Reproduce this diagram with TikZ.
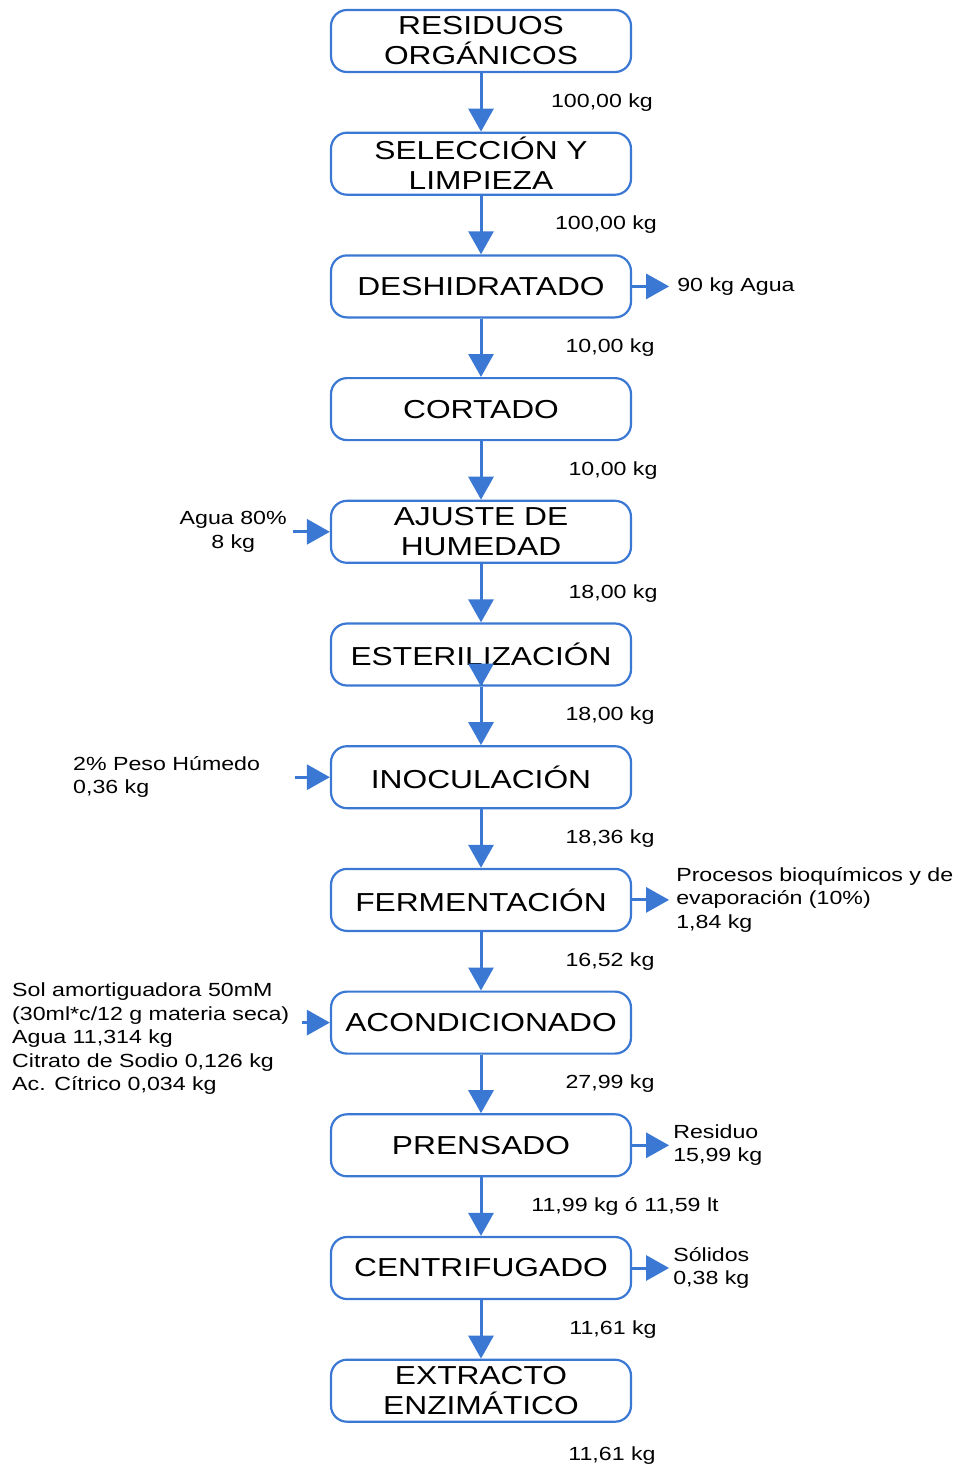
\documentclass[tikz,border=0pt]{standalone}
\usepackage{fontspec}
\setmainfont{Liberation Sans}[FakeStretch=1.22]
\usetikzlibrary{positioning,arrows.meta}
\definecolor{flowblue}{RGB}{58,120,212}
\tikzset{
  proc/.style={draw=flowblue, line width=2.2pt, rounded corners=16pt, minimum width=300pt, minimum height=62pt, inner sep=0pt, align=center, font=\fontsize{26}{30}\selectfont},
  flow/.style={draw=flowblue, line width=3pt, -{Triangle[length=23pt,width=25pt]}},
  qty/.style={inner sep=2pt, font=\fontsize{19}{23.5}\selectfont}
}

\begin{document}
\begin{tikzpicture}[x=1pt, y=-1pt, node distance=58.5pt]
  \useasboundingbox (0,0) rectangle (964,1467);
  \node [proc] (residuos) at (481,41) {RESIDUOS\\ORGÁNICOS};
  \node [proc, below=of residuos] (seleccion) {SELECCIÓN Y\\LIMPIEZA};
  \node [proc, below=of seleccion] (deshid) {DESHIDRATADO};
  \node [proc, below=of deshid] (cortado) {CORTADO};
  \node [proc, below=of cortado] (ajuste) {AJUSTE DE\\HUMEDAD};
  \node [proc, below=of ajuste] (esteril) {ESTERILIZACIÓN};
  \node [proc, below=of esteril] (inocul) {INOCULACIÓN};
  \node [proc, below=of inocul] (ferment) {FERMENTACIÓN};
  \node [proc, below=of ferment] (acond) {ACONDICIONADO};
  \node [proc, below=of acond] (prensado) {PRENSADO};
  \node [proc, below=of prensado] (centri) {CENTRIFUGADO};
  \node [proc, below=of centri] (extracto) {EXTRACTO\\ENZIMÁTICO};

  \draw [flow] (residuos) -- (seleccion) node [qty, midway, xshift=121pt] {100,00 kg};
  \draw [flow] (seleccion) -- (deshid) node [qty, midway, xshift=125pt] {100,00 kg};
  \draw [flow] (deshid) -- (cortado) node [qty, midway, xshift=129pt] {10,00 kg};
  \draw [flow] (cortado) -- (ajuste) node [qty, midway, xshift=132pt] {10,00 kg};
  \draw [flow] (ajuste) -- (esteril) node [qty, midway, xshift=132pt] {18,00 kg};
  \draw [flow] (esteril) -- (inocul) node [qty, midway, xshift=129pt] {18,00 kg};
  \draw [flow] (inocul) -- (ferment) node [qty, midway, xshift=129pt] {18,36 kg};
  \draw [flow] (ferment) -- (acond) node [qty, midway, xshift=129pt] {16,52 kg};
  \draw [flow] (acond) -- (prensado) node [qty, midway, xshift=129pt] {27,99 kg};
  \draw [flow] (prensado) -- (centri) node [qty, midway, xshift=144pt] {11,99 kg ó 11,59 lt};
  \draw [flow] (centri) -- (extracto) node [qty, midway, xshift=132pt] {11,61 kg};
  \draw [flow] ([yshift=2pt]esteril.south) -- (esteril.south);
  \node [qty] (final) at ([xshift=131pt, yshift=-33pt]extracto.south) {11,61 kg};

  \coordinate (deshOut) at ([xshift=37pt]deshid.east);
  \draw [flow] (deshid) -- (deshOut);
  \node [qty, right=6pt of deshOut] (agua) {90 kg Agua};
  \coordinate (fermOut) at ([xshift=37pt]ferment.east);
  \draw [flow] (ferment) -- (fermOut);
  \node [qty, align=left, right=5pt of fermOut] (procesos) {Procesos bioquímicos y de\\evaporación (10\%)\\1,84 kg};
  \coordinate (prensOut) at ([xshift=37pt]prensado.east);
  \draw [flow] (prensado) -- (prensOut);
  \node [qty, align=left, right=2pt of prensOut] (residuo) {Residuo\\15,99 kg};
  \coordinate (centriOut) at ([xshift=37pt]centri.east);
  \draw [flow] (centri) -- (centriOut);
  \node [qty, align=left, right=2pt of centriOut] (solidos) {Sólidos\\0,38 kg};

  \coordinate (ajIn) at ([xshift=-37pt]ajuste.west);
  \draw [flow] (ajIn) -- (ajuste);
  \node [qty, align=center, left=4pt of ajIn] (aguaIn) {Agua 80\%\\8 kg};
  \coordinate (inocIn) at ([xshift=-35pt]inocul.west);
  \draw [flow] (inocIn) -- (inocul);
  \node [qty, align=left, anchor=west] (peso) at (71,777) {2\% Peso Húmedo\\0,36 kg};
  \coordinate (acondIn) at ([xshift=-28pt]acond.west);
  \draw [flow] (acondIn) -- (acond);
  \node [qty, align=left, anchor=west] (sol) at (10,1039) {Sol amortiguadora 50mM\\(30ml*c/12 g materia seca)\\Agua 11,314 kg\\Citrato de Sodio 0,126 kg\\Ac. Cítrico 0,034 kg};
\end{tikzpicture}
\end{document}
